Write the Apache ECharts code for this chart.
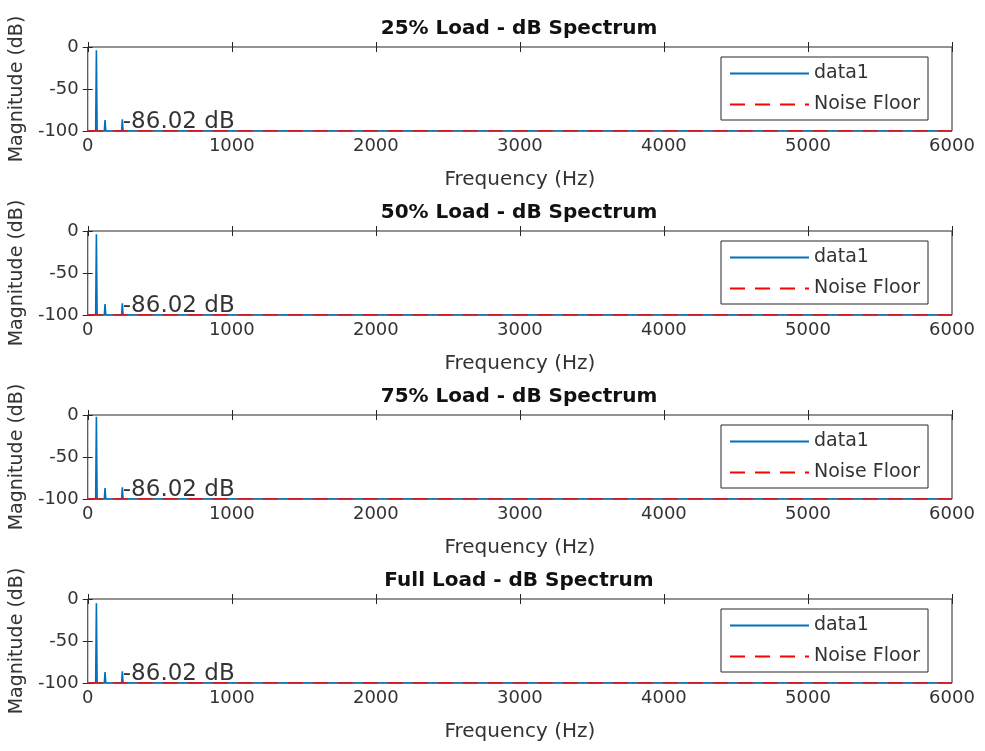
<!DOCTYPE html>
<html>
<head>
<meta charset="utf-8">
<script src="https://cdn.jsdelivr.net/npm/echarts@6/dist/echarts.min.js"></script>
<style>
html, body { margin: 0; padding: 0; background: #fff; }
#main { width: 985px; height: 751px; }
</style>
</head>
<body>
<div id="main"></div>
<script>
var titles = ["25% Load - dB Spectrum", "50% Load - dB Spectrum", "75% Load - dB Spectrum", "Full Load - dB Spectrum"];
// spectrum bins (Hz) and magnitudes (dB), one array per load
var freqHz = [0, 55, 60, 65, 115, 120, 125, 235, 240, 245, 6000];
var mag25 = [-100, -100, -4, -100, -100, -87, -100, -100, -86.02, -100, -100];
var mag50 = [-100, -100, -4, -100, -100, -87, -100, -100, -86.02, -100, -100];
var mag75 = [-100, -100, -2, -100, -100, -87, -100, -100, -86.02, -100, -100];
var magFull = [-100, -100, -5, -100, -100, -87, -100, -100, -86.02, -100, -100];
var floorHz = [0, 6000];
var floorDb = [-100, -100];
var peakHz = 240;   // annotated harmonic
var peakDb = -86.02;
var xTicks = [0, 1000, 2000, 3000, 4000, 5000, 6000];
var yTicks = [-100, -50, 0];

var gridTops = [47, 231, 415, 599];
var textColor = "#333";
var axisColor = "#262626";
var font = "DejaVu Sans";

function pairs(xs, ys) {
    var out = [];
    for (var i = 0; i < xs.length; i++) {
        out.push([xs[i], ys[i]]);
    }
    return out;
}

function plainNum(v) {
    return String(v);
}

function doInit() {
    var mags = [mag25, mag50, mag75, magFull];
    var grid = [], xAxis = [], yAxis = [], title = [], legend = [], series = [];
    var xMin = xTicks[0], xMax = xTicks[xTicks.length - 1], xStep = xTicks[1] - xTicks[0];
    var yMin = yTicks[0], yMax = yTicks[yTicks.length - 1], yStep = yTicks[1] - yTicks[0];

    for (var i = 0; i < 4; i++) {
        grid.push({
            left: 86, right: 33, top: gridTops[i], height: 84,
            show: true, borderColor: axisColor, borderWidth: 1, backgroundColor: "#fff"
        });
        title.push({
            text: titles[i], left: 519, top: gridTops[i] - 28, textAlign: "center", padding: 0,
            textStyle: { fontFamily: font, fontSize: 20, fontWeight: "bold", color: "#111" }
        });
        legend.push({
            data: ["data1", "Noise Floor"],
            orient: "vertical", left: 721, top: gridTops[i] + 10,
            padding: [7, 8, 6, 8], itemWidth: 79, itemHeight: 20, itemGap: 12,
            backgroundColor: "#fff", borderColor: axisColor, borderWidth: 1, borderRadius: 0,
            itemStyle: { color: "rgba(0,0,0,0)", borderWidth: 0, opacity: 0 },
            textStyle: { fontFamily: font, fontSize: 19, color: textColor },
            selectedMode: false
        });
    }
    // bottom / left axes with labels
    for (var i = 0; i < 4; i++) {
        xAxis.push({
            type: "value", gridIndex: i, min: xMin, max: xMax, interval: xStep,
            name: "Frequency (Hz)", nameLocation: "middle", nameGap: 39,
            nameTextStyle: { fontFamily: font, fontSize: 20, color: textColor },
            axisLine: { show: false }, splitLine: { show: false },
            axisTick: { inside: true, length: 5, lineStyle: { color: axisColor } },
            axisLabel: { margin: 6, fontFamily: font, fontSize: 18, color: textColor, formatter: plainNum }
        });
        yAxis.push({
            type: "value", gridIndex: i, min: yMin, max: yMax, interval: yStep,
            name: "Magnitude (dB)", nameLocation: "middle", nameGap: 52,
            nameTextStyle: { fontFamily: font, fontSize: 19, color: textColor },
            axisLine: { show: false }, splitLine: { show: false },
            axisTick: { inside: true, length: 5, lineStyle: { color: axisColor } },
            axisLabel: { margin: 9, fontFamily: font, fontSize: 18, color: textColor, formatter: plainNum }
        });
    }
    // top / right axes, ticks only (box on)
    for (var i = 0; i < 4; i++) {
        xAxis.push({
            type: "value", gridIndex: i, position: "top", min: xMin, max: xMax, interval: xStep,
            axisLine: { show: false }, splitLine: { show: false }, axisLabel: { show: false },
            axisTick: { inside: true, length: 5, lineStyle: { color: axisColor } }
        });
        yAxis.push({
            type: "value", gridIndex: i, position: "right", min: yMin, max: yMax, interval: yStep,
            axisLine: { show: false }, splitLine: { show: false }, axisLabel: { show: false },
            axisTick: { inside: true, length: 5, lineStyle: { color: axisColor } }
        });
    }

    for (var i = 0; i < 4; i++) {
        series.push({
            name: "data1", type: "line", xAxisIndex: i, yAxisIndex: i,
            data: pairs(freqHz, mags[i]), symbol: "none", animation: false,
            lineStyle: { color: "#0072BD", width: 1.6 }, itemStyle: { color: "#0072BD" }
        });
        series.push({
            name: "Noise Floor", type: "line", xAxisIndex: i, yAxisIndex: i,
            data: pairs(floorHz, floorDb), symbol: "none", animation: false,
            lineStyle: { color: "#ff0000", width: 1.6, type: [15, 10] }, itemStyle: { color: "#ff0000" }
        });
        series.push({
            name: "peak", type: "scatter", xAxisIndex: i, yAxisIndex: i,
            data: [[peakHz, peakDb]], symbolSize: 1, silent: true, animation: false,
            itemStyle: { color: "rgba(0,0,0,0)" },
            label: {
                show: true, position: "right", distance: 0, offset: [0, 3],
                fontFamily: font, fontSize: 23, color: "#000",
                formatter: function (p) { return p.value[1].toFixed(2) + " dB"; }
            }
        });
    }

    var myChart = echarts.init(document.getElementById("main"), null, { renderer: "canvas" });
    var option = {
        backgroundColor: "#fff",
        animation: false,
        title: title,
        legend: legend,
        grid: grid,
        xAxis: xAxis,
        yAxis: yAxis,
        series: series
    };
    myChart.setOption(option, true);

    window.onresize = function () {
        myChart.resize();
    };
}

doInit();
</script>
</body>
</html>
